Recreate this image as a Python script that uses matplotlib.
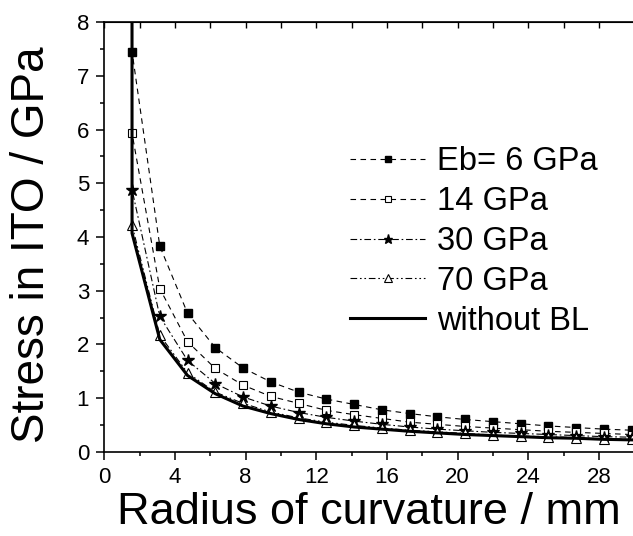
import matplotlib
matplotlib.use('Agg')
import matplotlib.pyplot as plt
from matplotlib.ticker import MultipleLocator

# Data (radius of curvature in mm, stress in GPa)
# first point sits far above the frame so the curves run off the top
radius = [1.55, 1.57, 3.14, 4.71, 6.28, 7.85, 9.42, 11.00, 12.57, 14.14, 15.71,
          17.28, 18.85, 20.42, 21.99, 23.56, 25.13, 26.70, 28.27, 29.85]
stress_6 = [40.0, 7.45, 3.83, 2.58, 1.94, 1.56, 1.30, 1.11, 0.98, 0.88, 0.78,
            0.71, 0.65, 0.60, 0.56, 0.52, 0.48, 0.45, 0.42, 0.40]
stress_14 = [40.0, 5.93, 3.04, 2.05, 1.55, 1.24, 1.03, 0.90, 0.77, 0.69, 0.62,
             0.55, 0.51, 0.47, 0.44, 0.41, 0.38, 0.36, 0.34, 0.32]
stress_30 = [40.0, 4.88, 2.52, 1.70, 1.27, 1.02, 0.85, 0.73, 0.64, 0.57, 0.51,
             0.46, 0.42, 0.39, 0.36, 0.34, 0.32, 0.30, 0.28, 0.27]
stress_70 = [40.0, 4.22, 2.17, 1.47, 1.11, 0.90, 0.74, 0.63, 0.55, 0.49, 0.44,
             0.40, 0.37, 0.34, 0.31, 0.29, 0.28, 0.26, 0.24, 0.23]
stress_nobl = [40.0, 4.07, 2.09, 1.42, 1.08, 0.85, 0.71, 0.60, 0.52, 0.46, 0.42,
               0.38, 0.35, 0.32, 0.30, 0.28, 0.26, 0.25, 0.23, 0.22]
labels = ['Eb= 6 GPa', '14 GPa', '30 GPa', '70 GPa', 'without BL']

plt.rcParams['font.family'] = ['Liberation Sans', 'DejaVu Sans']

fig = plt.figure(figsize=(6.33, 5.36), dpi=100)
ax = fig.add_axes([0.1648, 0.1573, 0.8373, 0.8011])

ax.plot(radius, stress_6, color='black', lw=0.8, ls=(0, (5, 4)),
        marker='s', ms=6, mfc='black', mec='black', label=labels[0])
ax.plot(radius, stress_14, color='black', lw=0.8, ls=(0, (5, 4)),
        marker='s', ms=6, mfc='white', mec='black', mew=0.8, label=labels[1])
ax.plot(radius, stress_30, color='black', lw=0.8, ls=(0, (6, 2.5, 1.5, 2.5)),
        marker='*', ms=9, mfc='black', mec='black', label=labels[2])
ax.plot(radius, stress_70, color='black', lw=0.8, ls=(0, (6, 2.5, 1.5, 2.5, 1.5, 2.5)),
        marker='^', ms=7, mfc='white', mec='black', mew=0.8, label=labels[3])
ax.plot(radius, stress_nobl, color='black', lw=2.2, label=labels[4])

ax.set_xlim(0, 30)
ax.set_ylim(0, 8)
ax.xaxis.set_major_locator(MultipleLocator(4))
ax.xaxis.set_minor_locator(MultipleLocator(2))
ax.yaxis.set_major_locator(MultipleLocator(1))
ax.yaxis.set_minor_locator(MultipleLocator(0.5))
ax.tick_params(which='both', direction='out', width=1.1, labelsize=16, pad=5.5)
ax.tick_params(which='major', length=5.5)
ax.tick_params(which='minor', length=3)
for s in ax.spines.values():
    s.set_linewidth(1.2)

top = ax.secondary_xaxis('top')
top.xaxis.set_major_locator(MultipleLocator(4))
top.xaxis.set_minor_locator(MultipleLocator(2))
top.tick_params(which='both', direction='in', length=4, width=1.0, labeltop=False)

ax.set_xlabel('Radius of curvature / mm', fontsize=32.5, labelpad=3)
ax.set_ylabel('Stress in ITO / GPa', fontsize=33, va='center')
ax.yaxis.set_label_coords(-0.136, 0.482)

leg = ax.legend(loc='upper left', bbox_to_anchor=(0.4636, 0.711), frameon=False,
                fontsize=23.5, handlelength=2.3, handletextpad=0.37,
                labelspacing=0.27, markerscale=0.75, borderpad=0,
                borderaxespad=0)

fig.savefig('out.png', dpi=100)
